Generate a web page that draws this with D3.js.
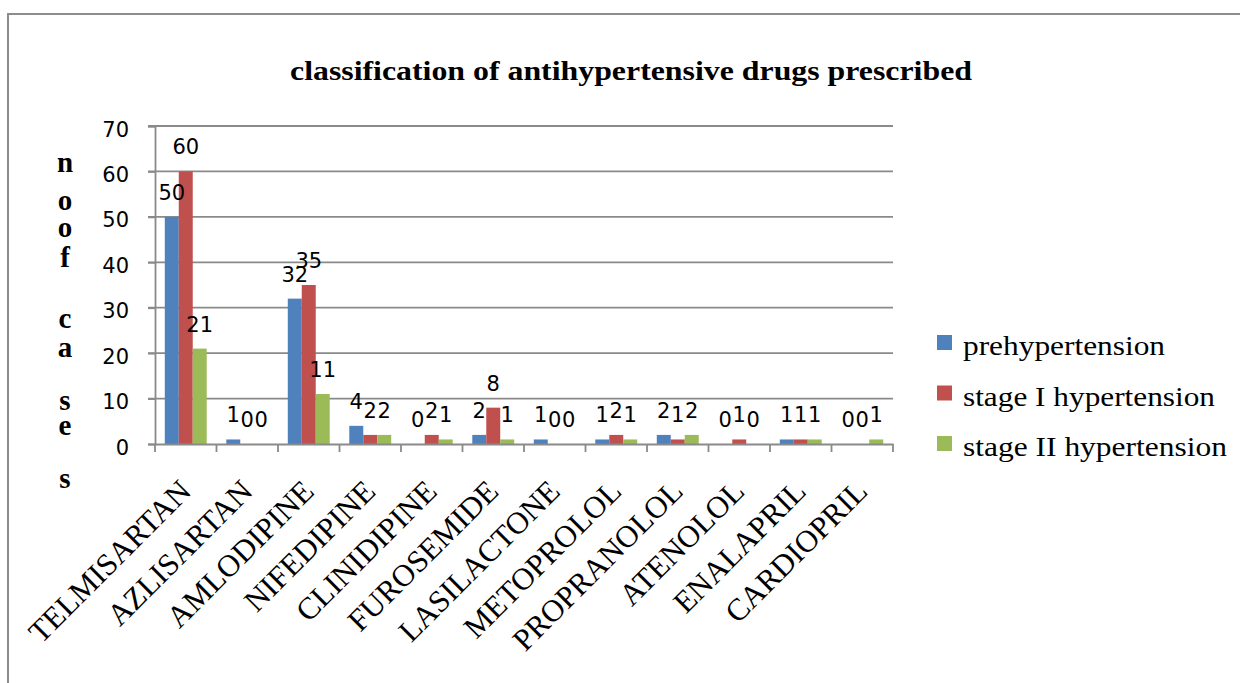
<!DOCTYPE html>
<html>
<head>
<meta charset="utf-8">
<script src="https://cdn.jsdelivr.net/npm/d3@7"></script>
<style>
  html, body { margin: 0; padding: 0; background: #fff; }
  svg { display: block; }
</style>
</head>
<body>
<svg id="chart" width="1240" height="683"></svg>
<script>
// Drugs prescribed, counted per hypertension stage
const categories = ["TELMISARTAN", "AZLISARTAN", "AMLODIPINE", "NIFEDIPINE", "CLINIDIPINE",
  "FUROSEMIDE", "LASILACTONE", "METOPROLOL", "PROPRANOLOL", "ATENOLOL", "ENALAPRIL", "CARDIOPRIL"];
const seriesNames = ["prehypertension", "stage I hypertension", "stage II hypertension"];
const prehypertension = [50, 1, 32, 4, 0, 2, 1, 1, 2, 0, 1, 0];
const stageOne = [60, 0, 35, 2, 2, 8, 0, 2, 1, 1, 1, 0];
const stageTwo = [21, 0, 11, 2, 1, 1, 0, 1, 2, 0, 1, 1];
const yTicks = [0, 10, 20, 30, 40, 50, 60, 70];
const yTitleLetters = ["n", "o", "o", "f", "c", "a", "s", "e", "s"];

const seriesValues = [prehypertension, stageOne, stageTwo];
const colors = ["#4F81BD", "#C0504D", "#9BBB59"];

const svg = d3.select("#chart");
const gridColor = "#8a8a8a";

// outer chart frame
svg.append("rect")
  .attr("x", 8).attr("y", 14)
  .attr("width", 1260).attr("height", 700)
  .attr("fill", "#fff")
  .attr("stroke", "#8c8c8c").attr("stroke-width", 2);

const plot = { left: 155, right: 893, top: 126, bottom: 444 };

const x = d3.scaleBand().domain(categories).range([plot.left, plot.right]).padding(0);
const xs = d3.scaleBand().domain(d3.range(seriesNames.length))
  .range([0, x.bandwidth()]).paddingInner(0).paddingOuter(0.7);
const y = d3.scaleLinear().domain([0, 70]).range([plot.bottom, plot.top]);

// horizontal gridlines
svg.append("g").selectAll("line").data(yTicks.filter(t => t > 0)).join("line")
  .attr("x1", plot.left - 7).attr("x2", plot.right)
  .attr("y1", d => y(d)).attr("y2", d => y(d))
  .attr("stroke", gridColor).attr("stroke-width", 1.8);

// y axis
const yAxis = svg.append("g")
  .attr("transform", `translate(${plot.left},0)`)
  .call(d3.axisLeft(y).tickValues(yTicks).tickSize(7).tickPadding(19).tickFormat(d3.format("d")));
yAxis.select(".domain").attr("stroke", gridColor).attr("stroke-width", 1.8);
yAxis.selectAll(".tick line").attr("stroke", gridColor).attr("stroke-width", 1.8);
yAxis.selectAll(".tick text")
  .attr("font-family", "DejaVu Sans").attr("font-size", 21).attr("fill", "#000")
  .attr("dy", "0.48em");

// bars
const groups = svg.append("g").selectAll("g").data(seriesValues).join("g")
  .attr("fill", (d, i) => colors[i]);
groups.each(function (vals, si) {
  d3.select(this).selectAll("rect").data(vals).join("rect")
    .attr("x", (d, ci) => x(categories[ci]) + xs(si))
    .attr("width", xs.bandwidth())
    .attr("y", d => y(d))
    .attr("height", d => y(0) - y(d));
});

// x axis
const xAxis = svg.append("g")
  .attr("transform", `translate(0,${plot.bottom})`)
  .call(d3.axisBottom(x).tickSize(0).tickFormat(""));
xAxis.select(".domain").attr("stroke", gridColor).attr("stroke-width", 1.8);
xAxis.selectAll(".tick").remove();
svg.append("g").selectAll("line")
  .data(categories.map(c => x(c)).concat([plot.right]))
  .join("line")
  .attr("x1", d => d).attr("x2", d => d)
  .attr("y1", plot.bottom).attr("y2", plot.bottom + 8)
  .attr("stroke", gridColor).attr("stroke-width", 1.8);

// value labels
const labels = svg.append("g")
  .attr("font-family", "DejaVu Sans").attr("font-size", 21).attr("fill", "#000")
  .attr("text-anchor", "middle");
seriesValues.forEach((vals, si) => {
  labels.selectAll(null).data(vals).join("text")
    .attr("x", (d, ci) => x(categories[ci]) + xs(si) + xs.bandwidth() / 2)
    .attr("y", d => y(d) - 17)
    .text(d => d);
});

// category labels, rotated 45 degrees
svg.append("g").selectAll("text").data(categories).join("text")
  .attr("transform", d => `translate(${x(d) + x.bandwidth() / 2 + 7},493) rotate(-45)`)
  .attr("text-anchor", "end")
  .attr("font-family", "Liberation Serif").attr("font-size", 31).attr("fill", "#000")
  .text(d => d);

// title
svg.append("text")
  .attr("x", 631).attr("y", 80)
  .attr("text-anchor", "middle")
  .attr("font-family", "Liberation Serif").attr("font-weight", "bold")
  .attr("font-size", 27).attr("fill", "#000")
  .attr("textLength", 682).attr("lengthAdjust", "spacingAndGlyphs")
  .text("classification of antihypertensive drugs prescribed");

// stacked y axis title
const yTitleBaselines = [172, 210, 237, 267, 328, 357, 410, 435, 488];
svg.append("g")
  .attr("font-family", "Liberation Serif").attr("font-weight", "bold")
  .attr("font-size", 29).attr("fill", "#000").attr("text-anchor", "middle")
  .selectAll("text").data(yTitleLetters).join("text")
  .attr("x", 65).attr("y", (d, i) => yTitleBaselines[i])
  .text(d => d);

// legend
const legendWidths = [202, 252, 264];
const legend = svg.append("g").selectAll("g").data(seriesNames).join("g")
  .attr("transform", (d, i) => `translate(937,${335 + i * 50.5})`);
legend.append("rect")
  .attr("width", 15).attr("height", 15)
  .attr("fill", (d, i) => colors[i]);
legend.append("text")
  .attr("x", 26).attr("y", 20)
  .attr("font-family", "Liberation Serif").attr("font-size", 28).attr("fill", "#000")
  .attr("textLength", (d, i) => legendWidths[i]).attr("lengthAdjust", "spacingAndGlyphs")
  .text(d => d);
</script>
</body>
</html>
